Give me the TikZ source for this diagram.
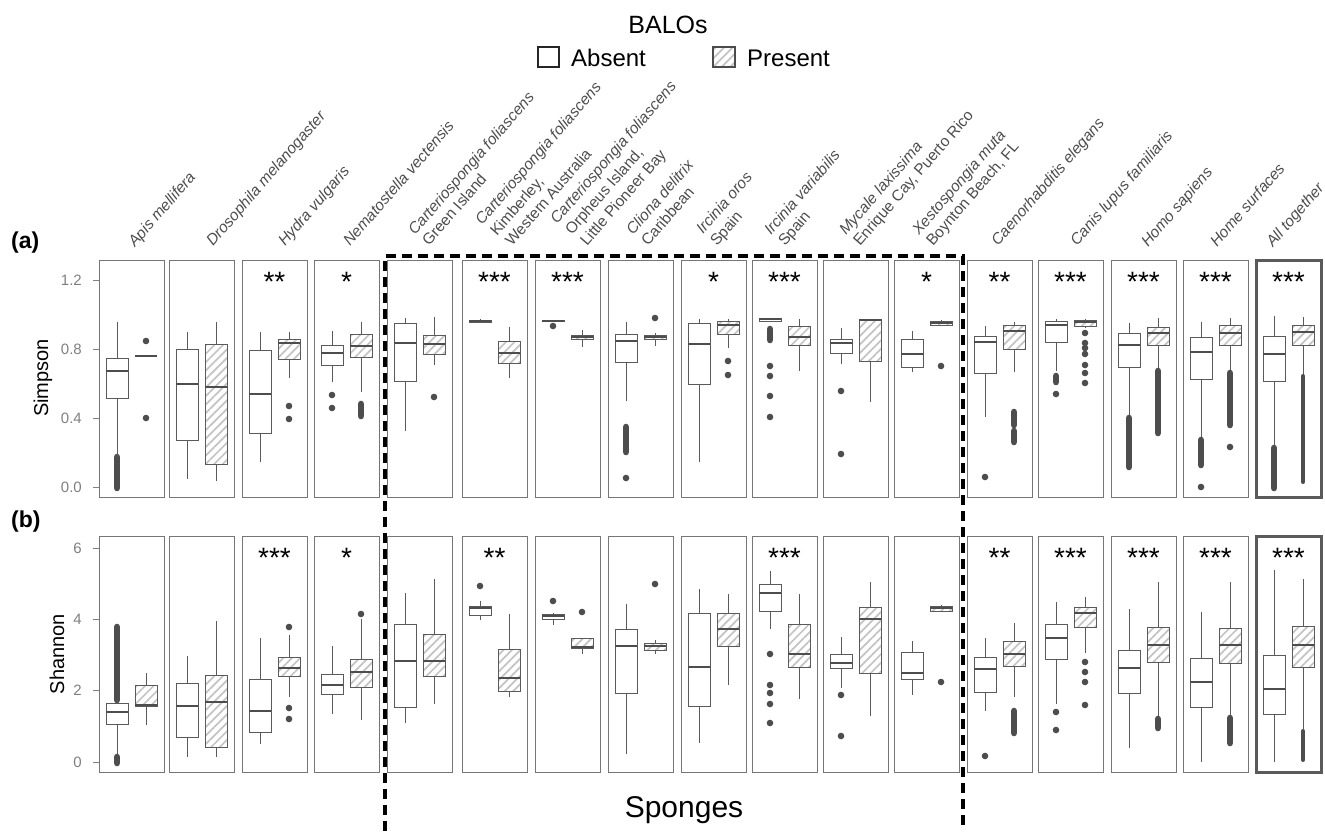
\documentclass[tikz,border=0pt]{standalone}
\usepackage{fontspec}
\setmainfont{Liberation Sans}
\usetikzlibrary{patterns.meta}
\definecolor{pbord}{HTML}{767676}
\definecolor{bline}{HTML}{5A5A5A}
\definecolor{medc}{HTML}{4D4D4D}
\definecolor{hatch}{HTML}{C4C4C4}
\definecolor{outc}{HTML}{4D4D4D}
\definecolor{lab}{HTML}{4D4D4D}
\definecolor{tickc}{HTML}{7F7F7F}
\tikzset{
  panel/.style={draw=pbord, fill=white, line width=1pt},
  panelx/.style={draw=bline, fill=white, line width=3pt},
  whisk/.style={draw=bline, line width=1pt},
  abox/.style={draw=bline, fill=white, line width=1pt},
  pbox/.style={preaction={fill=white}, draw=bline, line width=1pt,
    pattern={Lines[angle=45,distance=6pt,line width=1.7pt]}, pattern color=hatch},
  medl/.style={draw=medc, line width=2.5pt},
  clump/.style={draw=outc, line width=6.6pt, line cap=round},
  sclump/.style={draw=outc, line width=4pt, line cap=round},
  lbl/.style={rotate=49, anchor=base west, inner sep=0pt, text=lab, font=\fontsize{15.5}{18}\selectfont},
  ticklab/.style={anchor=east, inner sep=0pt, text=tickc, font=\fontsize{15}{18}\selectfont},
  stars/.style={anchor=base, inner sep=0pt, font=\fontsize{28}{32}\selectfont},
  sponge/.style={draw=black, line width=3.5pt, dash pattern=on 10pt off 6pt},
}
\newcommand{\bpl}[7]{%
  \draw[whisk] (#1,#2) -- (#1,#3) (#1,#5) -- (#1,#6);
  \path[#7] ({#1-11},#3) rectangle ({#1+11},#5);
  \draw[medl] ({#1-11},#4) -- ({#1+11},#4);}
\newcommand{\outs}[2]{\foreach \yy in {#2} {\fill[outc] (#1,\yy) circle (3.3pt);}}
\newcommand{\clp}[3]{\draw[clump] (#1,#2) -- (#1,#3);}
\begin{document}
\begin{tikzpicture}[x=1pt,y=-1pt]
\useasboundingbox (0,0) rectangle (1325,831);
% legend
\node[anchor=base, inner sep=0pt, font=\fontsize{25}{30}\selectfont] (ltitle) at (668,33) {BALOs};
\draw[draw=black!85, line width=1.4pt, fill=white] (538,47) rectangle (559,67);
\node[anchor=base west, inner sep=0pt, font=\fontsize{24}{28}\selectfont] (labs) at (571,66) {Absent};
\path[pbox, draw=black!70, line width=1.4pt] (713,47) rectangle (735,67);
\node[anchor=base west, inner sep=0pt, font=\fontsize{24}{28}\selectfont] (lpres) at (747,66) {Present};
% category labels
\node[lbl] (l1) at (135,248) {\textit{Apis mellifera}};
\node[lbl] (l2) at (213,247) {\textit{Drosophila melanogaster}};
\node[lbl] (l3) at (285,247) {\textit{Hydra vulgaris}};
\node[lbl] (l4) at (350,247) {\textit{Nematostella vectensis}};
\node[lbl] (l5a) at (415,236) {\textit{Carteriospongia foliascens}};
\node[lbl] (l5b) at (429,247) {Green Island};
\node[lbl] (l6a) at (482,226) {\textit{Carteriospongia foliascens}};
\node[lbl] (l6b) at (497,237) {Kimberley,};
\node[lbl] (l6c) at (512,247) {Western Australia};
\node[lbl] (l7a) at (557,225) {\textit{Carteriospongia foliascens}};
\node[lbl] (l7b) at (572,236) {Orpheus Island,};
\node[lbl] (l7c) at (587,247) {Little Pioneer Bay};
\node[lbl] (l8a) at (633,236) {\textit{Cliona delitrix}};
\node[lbl] (l8b) at (648,247) {Caribbean};
\node[lbl] (l9a) at (703,235) {\textit{Ircinia oros}};
\node[lbl] (l9b) at (717,247) {Spain};
\node[lbl] (l10a) at (771,236) {\textit{Ircinia variabilis}};
\node[lbl] (l10b) at (785,247) {Spain};
\node[lbl] (l11a) at (846,236) {\textit{Mycale laxissima}};
\node[lbl] (l11b) at (860,247) {Enrique Cay, Puerto Rico};
\node[lbl] (l12a) at (919,236) {\textit{Xestospongia muta}};
\node[lbl] (l12b) at (933,247) {Boynton Beach, FL};
\node[lbl] (l13) at (998,247) {\textit{Caenorhabditis elegans}};
\node[lbl] (l14) at (1077,247) {\textit{Canis lupus familiaris}};
\node[lbl] (l15) at (1148,248) {\textit{Homo sapiens}};
\node[lbl] (l16) at (1217,248) {\textit{Home surfaces}};
\node[lbl] (l17) at (1273,248) {\textit{All together}};
% panel tags and axis titles
\node[anchor=base west, inner sep=0pt, font=\fontsize{23}{27}\selectfont\bfseries] (ta) at (11,248) {(a)};
\node[anchor=base west, inner sep=0pt, font=\fontsize{23}{27}\selectfont\bfseries] (tb) at (11,527) {(b)};
\node[rotate=90, inner sep=0pt, font=\fontsize{20}{24}\selectfont] (ya) at (43,378) {Simpson};
\node[rotate=90, inner sep=0pt, font=\fontsize{20}{24}\selectfont] (yb) at (57,654) {Shannon};
% ticks
\foreach \v/\y in {1.2/280,0.8/349,0.4/418,0.0/487} {
  \draw[tickc, line width=1pt] (93,\y) -- (99,\y);
  \node[ticklab] at (82,\y) {\v};}
\foreach \v/\y in {6/548,4/619,2/690,0/762} {
  \draw[tickc, line width=1pt] (93,\y) -- (99,\y);
  \node[ticklab] at (82,\y) {\v};}
% panels
\foreach \L in {99,169,242,314,387,462,535,608,681,752,823,894,967,1038,1111,1183} {
  \draw[panel] (\L,260) rectangle ({\L+65},497);
  \draw[panel] (\L,536) rectangle ({\L+65},772);}
\draw[panelx] (1256,260) rectangle (1321,497);
\draw[panelx] (1256,536) rectangle (1321,772);
% ===== (a) Simpson =====
\clp{117}{457}{488}
\bpl{117}{322}{358}{371}{398}{457}{abox}
\bpl{146}{356}{356}{356}{356}{356}{pbox} \outs{146}{341,418}
\bpl{187}{332}{349}{384}{440}{479}{abox}
\bpl{216}{322}{344}{387}{464}{481}{pbox}
\bpl{260}{332}{350}{394}{433}{462}{abox}
\bpl{289}{332}{339}{343}{359}{378}{pbox} \outs{289}{406,419}
\bpl{332}{331}{345}{353}{365}{382}{abox} \outs{332}{395,408}
\bpl{361}{322}{334}{346}{357}{392}{pbox} \clp{361}{404}{416}
\bpl{405}{318}{323}{343}{381}{431}{abox}
\bpl{434}{317}{335}{344}{354}{365}{pbox} \outs{434}{397}
\bpl{480}{319}{320}{321}{322}{323}{abox}
\bpl{509}{327}{341}{353}{363}{378}{pbox}
\outs{553}{326}
\bpl{553}{320}{320}{321}{321}{322}{abox}
\bpl{582}{330}{335}{337}{339}{347}{pbox}
\bpl{626}{322}{334}{341}{362}{401}{abox} \clp{626}{427}{452} \outs{626}{478}
\bpl{655}{333}{335}{337}{339}{346}{pbox} \outs{655}{318}
\bpl{699}{319}{323}{344}{384}{462}{abox}
\bpl{728}{319}{321}{325}{334}{348}{pbox} \outs{728}{361,375}
\clp{770}{329}{340} \outs{770}{366,376,396,417}
\bpl{770}{318}{318}{319}{321}{322}{abox}
\bpl{799}{319}{326}{337}{345}{371}{pbox}
\bpl{841}{328}{339}{343}{353}{364}{abox} \outs{841}{391,454}
\bpl{870}{319}{319}{320}{361}{402}{pbox}
\bpl{912}{331}{339}{354}{367}{372}{abox}
\bpl{941}{320}{321}{323}{325}{326}{pbox} \outs{941}{366}
\bpl{985}{326}{336}{342}{373}{417}{abox} \outs{985}{477}
\bpl{1014}{322}{325}{331}{349}{372}{pbox} \clp{1014}{412}{425} \clp{1014}{431}{442}
\bpl{1056}{319}{321}{325}{342}{371}{abox} \clp{1056}{376}{382} \outs{1056}{394}
\outs{1085}{333,343,348,354,365,373,383}
\bpl{1085}{319}{320}{322}{326}{328}{pbox}
\bpl{1129}{323}{333}{345}{367}{417}{abox} \clp{1129}{418}{467}
\bpl{1158}{318}{327}{333}{345}{370}{pbox} \clp{1158}{371}{433}
\bpl{1201}{322}{337}{352}{379}{439}{abox} \clp{1201}{440}{465} \outs{1201}{487}
\bpl{1230}{318}{325}{333}{345}{372}{pbox} \clp{1230}{373}{425} \outs{1230}{447}
\bpl{1274}{316}{336}{354}{381}{447}{abox} \clp{1274}{448}{488}
\bpl{1303}{317}{325}{332}{345}{375}{pbox} \draw[sclump] (1303,376) -- (1303,482);
% ===== (b) Shannon =====
\clp{117}{627}{700} \clp{117}{757}{763}
\bpl{117}{700}{703}{712}{724}{755}{abox}
\bpl{146}{673}{685}{705}{706}{725}{pbox}
\bpl{187}{656}{683}{706}{737}{757}{abox}
\bpl{216}{621}{675}{702}{747}{757}{pbox}
\bpl{260}{638}{679}{711}{732}{744}{abox}
\bpl{289}{635}{657}{668}{676}{697}{pbox} \outs{289}{627,708,719}
\bpl{332}{646}{674}{685}{694}{714}{abox}
\bpl{361}{619}{659}{672}{687}{720}{pbox} \outs{361}{614}
\bpl{405}{593}{624}{661}{707}{723}{abox}
\bpl{434}{579}{634}{661}{676}{704}{pbox}
\bpl{480}{601}{606}{608}{615}{620}{abox} \outs{480}{586}
\bpl{509}{614}{649}{678}{691}{697}{pbox}
\bpl{553}{613}{614}{616}{619}{625}{abox} \outs{553}{601}
\bpl{582}{638}{638}{647}{648}{654}{pbox} \outs{582}{612}
\bpl{626}{604}{629}{646}{693}{754}{abox}
\bpl{655}{640}{643}{646}{650}{654}{pbox} \outs{655}{584}
\bpl{699}{589}{613}{667}{706}{743}{abox}
\bpl{728}{594}{613}{629}{646}{685}{pbox}
\bpl{770}{571}{584}{593}{611}{629}{abox} \outs{770}{654,685,693,704,723}
\bpl{799}{594}{624}{654}{667}{699}{pbox}
\bpl{841}{637}{654}{663}{668}{688}{abox} \outs{841}{695,736}
\bpl{870}{582}{607}{619}{673}{716}{pbox}
\bpl{912}{641}{652}{673}{679}{695}{abox}
\bpl{941}{605}{606}{608}{611}{611}{pbox} \outs{941}{682}
\bpl{985}{638}{657}{669}{692}{711}{abox} \outs{985}{756}
\bpl{1014}{623}{641}{654}{666}{697}{pbox} \clp{1014}{711}{733}
\bpl{1056}{602}{624}{638}{659}{704}{abox} \outs{1056}{712,730}
\bpl{1085}{597}{607}{613}{627}{653}{pbox} \outs{1085}{662,672,682,705}
\bpl{1129}{609}{650}{668}{693}{748}{abox}
\bpl{1158}{582}{627}{645}{662}{717}{pbox} \clp{1158}{719}{728}
\bpl{1201}{612}{658}{682}{707}{762}{abox}
\bpl{1230}{582}{628}{645}{663}{717}{pbox} \clp{1230}{718}{743}
\bpl{1274}{570}{655}{689}{714}{762}{abox}
\bpl{1303}{579}{626}{645}{667}{729}{pbox} \draw[sclump] (1303,731) -- (1303,760);
% ===== stars =====
\foreach \cx/\s in {274.5/{**},346.5/{*},494.5/{***},567.5/{***},713.5/{*},784.5/{***},926.5/{*},999.5/{**},1070.5/{***},1143.5/{***},1215.5/{***},1288.5/{***}}
  {\node[stars] at (\cx,291) {\s};}
\foreach \cx/\s in {274.5/{***},346.5/{*},494.5/{**},784.5/{***},999.5/{**},1070.5/{***},1143.5/{***},1215.5/{***},1288.5/{***}}
  {\node[stars] at (\cx,567) {\s};}
% ===== sponges frame =====
\coordinate (sbl) at (385,831);
\coordinate (stl) at (385,256);
\coordinate (str) at (963,256);
\coordinate (sbr) at (963,831);
\draw[sponge] (sbl) -- (stl) -- (str) -- (sbr);
\node[anchor=base, inner sep=0pt, font=\fontsize{30}{34}\selectfont] (sp) at (684,817) {Sponges};
\end{tikzpicture}
\end{document}
